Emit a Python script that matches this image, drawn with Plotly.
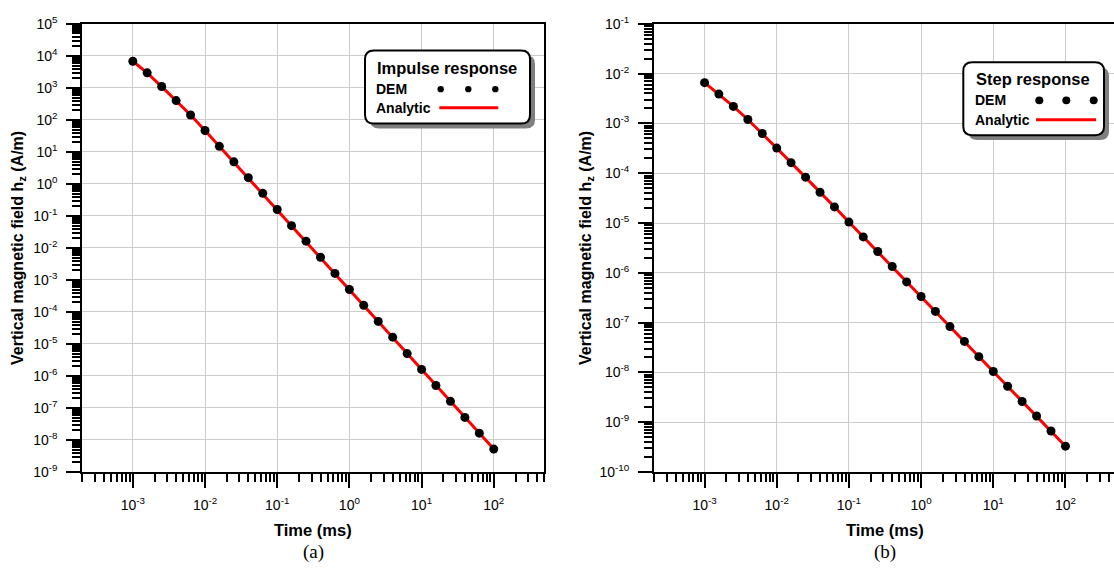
import plotly.graph_objects as go

# ---- data -------------------------------------------------------------
time_ms = [0.001, 0.00158, 0.00251, 0.00398, 0.00631,
           0.01, 0.0158, 0.0251, 0.0398, 0.0631,
           0.1, 0.158, 0.251, 0.398, 0.631,
           1.0, 1.58, 2.51, 3.98, 6.31,
           10.0, 15.8, 25.1, 39.8, 63.1, 100.0]

# impulse response hz (A/m)
impulse_dem = [6.8e3, 2.95e3, 1.1e3, 4.0e2, 1.42e2,
               46.6, 14.9, 4.89, 1.57, 0.506,
               0.158, 0.0495, 0.0163, 5.13e-3, 1.60e-3,
               5.02e-4, 1.61e-4, 5.06e-5, 1.63e-5, 4.99e-6,
               1.60e-6, 5.02e-7, 1.61e-7, 5.06e-8, 1.63e-8, 5.2e-9]
impulse_analytic = impulse_dem

# step response hz (A/m)
step_dem = [6.58e-3, 3.89e-3, 2.20e-3, 1.20e-3, 6.27e-4,
            3.20e-4, 1.63e-4, 8.34e-5, 4.14e-5, 2.11e-5,
            1.045e-5, 5.26e-6, 2.68e-6, 1.34e-6, 6.56e-7,
            3.34e-7, 1.68e-7, 8.32e-8, 4.19e-8, 2.07e-8,
            1.045e-8, 5.26e-9, 2.60e-9, 1.33e-9, 6.67e-10, 3.30e-10]
step_analytic = step_dem

x_tickvals = [1e-3, 1e-2, 1e-1, 1e0, 1e1, 1e2]
x_ticktext = ["10<sup>-3</sup>", "10<sup>-2</sup>", "10<sup>-1</sup>",
              "10<sup>0</sup>", "10<sup>1</sup>", "10<sup>2</sup>"]

y1_exps = list(range(-9, 6))
y1_tickvals = [10.0 ** e for e in y1_exps]
y1_ticktext = [f"10<sup>{e}</sup>" for e in y1_exps]

y2_exps = list(range(-10, 0))
y2_tickvals = [10.0 ** e for e in y2_exps]
y2_ticktext = [f"10<sup>{e}</sup>" for e in y2_exps]

# ---- page geometry (pixels) ------------------------------------------
W, H = 1114, 572
TOP, BOT = 14.3, 477.0
L1, R1 = 82.3, 544.3
L2 = 654.0
PX_PER_DEC = (R1 - L1) / 6.4


def px(x):
    return x / W


def py(y):
    return 1 - y / H


def minor_vals(lo, hi):
    vals = []
    for n in range(lo, hi):
        for k in range(2, 10):
            vals.append(k * 10.0 ** n)
    return vals


FONT = "Liberation Sans, Arial, sans-serif"

fig = go.Figure()

panels = [
    ("x", "y", impulse_dem, impulse_analytic),
    ("x2", "y2", step_dem, step_analytic),
]
for xa, ya, dem, ana in panels:
    fig.add_trace(go.Scatter(x=time_ms, y=ana, mode="lines",
                             line=dict(color="#ff0000", width=3),
                             xaxis=xa, yaxis=ya, showlegend=False,
                             hoverinfo="skip"))
    fig.add_trace(go.Scatter(x=time_ms, y=dem, mode="markers",
                             marker=dict(color="black", size=9),
                             xaxis=xa, yaxis=ya, showlegend=False))

common_axis = dict(
    type="log", showline=True, linecolor="black", linewidth=2,
    ticks="outside", ticklen=14, tickwidth=2, tickcolor="black",
    showgrid=True, gridcolor="#cccccc", gridwidth=1,
    zeroline=False, tickmode="array",
    tickfont=dict(family=FONT, size=14, color="black"),
)

x_axis = dict(common_axis, tickvals=x_tickvals, ticktext=x_ticktext,
              ticklabelstandoff=5,
              minor=dict(ticks="outside", ticklen=8, tickwidth=2,
                         tickcolor="black", tickmode="array",
                         tickvals=minor_vals(-4, 3), showgrid=False))

fig.update_layout(
    width=W, height=H,
    margin=dict(l=0, r=0, t=0, b=0),
    paper_bgcolor="white", plot_bgcolor="white",
    showlegend=False,
    xaxis=dict(x_axis, domain=[px(L1), px(R1)], range=[-3.7, 2.7],
               mirror=True, anchor="y"),
    yaxis=dict(common_axis, tickvals=y1_tickvals, ticktext=y1_ticktext,
               ticklabelstandoff=6,
               minor=dict(ticks="outside", ticklen=8, tickwidth=2,
                          tickcolor="black", tickmode="array",
                          tickvals=minor_vals(-9, 5), showgrid=False),
               domain=[py(BOT), py(TOP)], range=[-9, 5], mirror=True,
               anchor="x"),
    xaxis2=dict(x_axis, domain=[px(L2), 1.0],
                range=[-3.7, -3.7 + (W - L2) / PX_PER_DEC],
                mirror=True, anchor="y2"),
    yaxis2=dict(common_axis, tickvals=y2_tickvals, ticktext=y2_ticktext,
                ticklabelstandoff=6,
                minor=dict(ticks="outside", ticklen=8, tickwidth=2,
                           tickcolor="black", tickmode="array",
                           tickvals=minor_vals(-10, -1), showgrid=False),
                domain=[py(BOT), py(TOP)], range=[-10, -1], mirror=False,
                anchor="x2"),
)

annotations = []
shapes = []


def text(x, y, s, size, family=FONT, xanchor="center", angle=0):
    annotations.append(dict(x=px(x), y=py(y), xref="paper", yref="paper",
                            text=s, showarrow=False, xanchor=xanchor,
                            yanchor="middle", textangle=angle,
                            font=dict(family=family, size=size,
                                      color="black")))


# axis titles and panel captions
for cx, ytx, cap in [((L1 + R1) / 2, 19, "(a)"),
                     ((L2 + L2 + 462) / 2, 587, "(b)")]:
    text(cx, 537, "<b>Time (ms)</b>", 16.5)
    text(cx, 560, cap, 19, family="Liberation Serif, Times New Roman, serif")
    text(ytx, (TOP + BOT) / 2,
         "<b>Vertical magnetic field h<sub>z</sub> (A/m)</b>", 16,
         angle=-90)


def rounded_rect(x0, y0, x1, y1, r):
    pts = [
        f"M {px(x0 + r)},{py(y0)}",
        f"L {px(x1 - r)},{py(y0)}",
        f"Q {px(x1)},{py(y0)} {px(x1)},{py(y0 + r)}",
        f"L {px(x1)},{py(y1 - r)}",
        f"Q {px(x1)},{py(y1)} {px(x1 - r)},{py(y1)}",
        f"L {px(x0 + r)},{py(y1)}",
        f"Q {px(x0)},{py(y1)} {px(x0)},{py(y1 - r)}",
        f"L {px(x0)},{py(y0 + r)}",
        f"Q {px(x0)},{py(y0)} {px(x0 + r)},{py(y0)}",
        "Z",
    ]
    return " ".join(pts)


def legend_box(x0, y0, x1, y1, title, tx, ty, label_x, dem_y, ana_y,
               dot_xs, dot_r, line_x0, line_x1):
    shapes.append(dict(type="path", xref="paper", yref="paper",
                       path=rounded_rect(x0 + 5, y0 + 5, x1 + 5, y1 + 5, 9),
                       fillcolor="#7f7f7f", line=dict(width=0),
                       layer="above"))
    shapes.append(dict(type="path", xref="paper", yref="paper",
                       path=rounded_rect(x0, y0, x1, y1, 9),
                       fillcolor="white", line=dict(color="black", width=2),
                       layer="above"))
    text(tx, ty, f"<b>{title}</b>", 16.5)
    text(label_x, dem_y, "<b>DEM</b>", 14, xanchor="left")
    text(label_x, ana_y, "<b>Analytic</b>", 14, xanchor="left")
    for dx in dot_xs:
        shapes.append(dict(type="circle", xref="paper", yref="paper",
                           x0=px(dx - dot_r), x1=px(dx + dot_r),
                           y0=py(dem_y - dot_r), y1=py(dem_y + dot_r),
                           fillcolor="black", line=dict(width=0),
                           layer="above"))
    shapes.append(dict(type="line", xref="paper", yref="paper",
                       x0=px(line_x0), x1=px(line_x1),
                       y0=py(ana_y), y1=py(ana_y),
                       line=dict(color="#ff0000", width=3), layer="above"))


legend_box(365, 41.7, 530, 117.3, "Impulse response", 447, 60,
           374, 81.7, 101, [440.7, 468.3, 495.3], 3.2, 439.3, 498.3)
legend_box(963.3, 54, 1104, 129.3, "Step response", 1033.3, 71.7,
           972.7, 93.3, 113.3, [1039.3, 1066.3, 1093.7], 4.0, 1036, 1096)

fig.update_layout(annotations=annotations, shapes=shapes)

fig.write_html("out.html")
